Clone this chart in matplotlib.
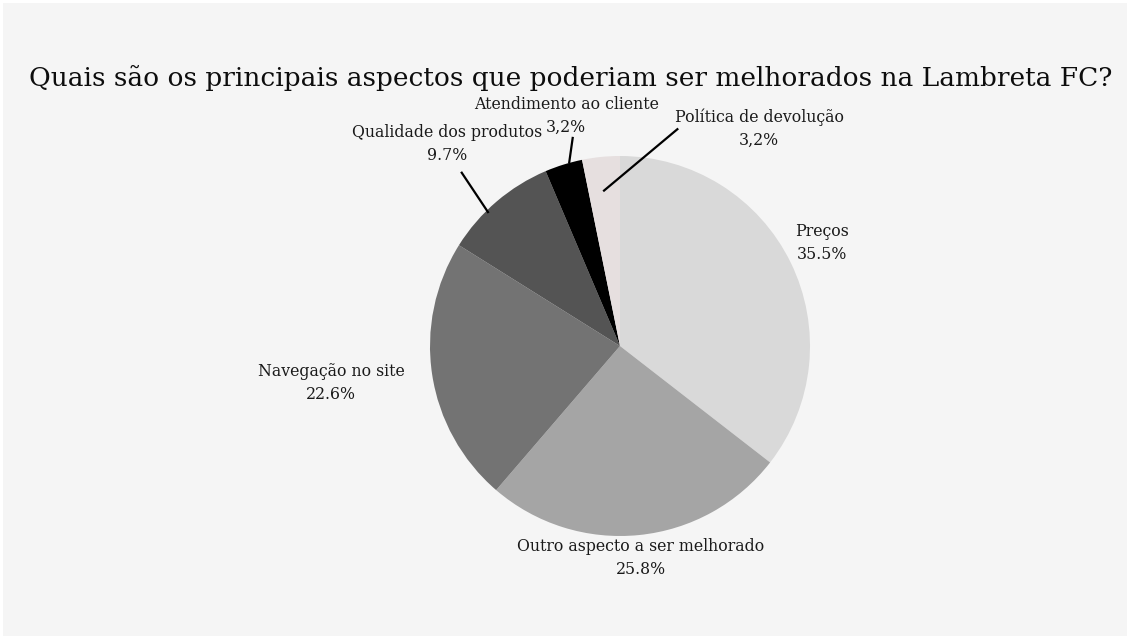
import matplotlib.pyplot as plt
from matplotlib.patches import Rectangle

# survey answers, clockwise from 12 o'clock
aspectos = ['Preços', 'Outro aspecto a ser melhorado', 'Navegação no site',
            'Qualidade dos produtos', 'Atendimento ao cliente', 'Política de devolução']
percentuais = [35.5, 25.8, 22.6, 9.7, 3.2, 3.2]
rotulos_pct = ['35.5%', '25.8%', '22.6%', '9.7%', '3,2%', '3,2%']
cores = ['#d9d9d9', '#a5a5a5', '#737373', '#545454', '#000000', '#e6dfdf']

# label centres in pie-radius units, and leader lines (wedge point, line end)
pos_rotulos = [(1.063, 0.542), (0.111, -1.116), (-1.521, -0.195),
               (-0.911, 1.063), (-0.284, 1.211), (0.732, 1.142)]
linhas = {3: ((-0.695, 0.705), (-0.833, 0.912)),
          4: ((-0.267, 0.968), (-0.249, 1.095)),
          5: ((-0.084, 0.818), (0.302, 1.141))}

plt.rcParams['font.family'] = ['DejaVu Serif']

W, H = 1130, 639
fig = plt.figure(figsize=(W / 100, H / 100), dpi=100, facecolor='white')
fig.patches.append(Rectangle((3 / W, 3 / H), 1 - 6 / W, 1 - 6 / H,
                             transform=fig.transFigure, facecolor='#f5f5f5',
                             edgecolor='none', zorder=-5))

ax = fig.add_axes([0, 0, 1, 1], zorder=2)
ax.set_facecolor('none')
R = 190.0  # pie radius in pixels
cx, cy = 620, 639 - 346
ax.pie(percentuais, colors=cores, startangle=90, counterclock=False,
       radius=1, center=(0, 0), wedgeprops=dict(linewidth=0))
ax.set_xlim(-cx / R, (W - cx) / R)
ax.set_ylim(-cy / R, (H - cy) / R)
ax.set_aspect('auto')
ax.axis('off')

# name on top, percentage below, 23 px apart
for i, (nome, pct) in enumerate(zip(aspectos, rotulos_pct)):
    x, y = pos_rotulos[i]
    for txt, dy in ((nome, 8.3), (pct, -8.3)):
        ax.annotate(txt, (x, y), xytext=(0, dy), textcoords='offset points',
                    ha='center', va='center', fontsize=11.3, color='#1a1a1a')

for i, (p0, p1) in linhas.items():
    ax.plot([p0[0], p1[0]], [p0[1], p1[1]], color='black', linewidth=1.6)

fig.text(571 / W, 1 - 78 / H,
         'Quais são os principais aspectos que poderiam ser melhorados na Lambreta FC?',
         ha='center', va='center', fontsize=19, color='#0d0d0d', zorder=3)

fig.savefig('out.png', dpi=100)
